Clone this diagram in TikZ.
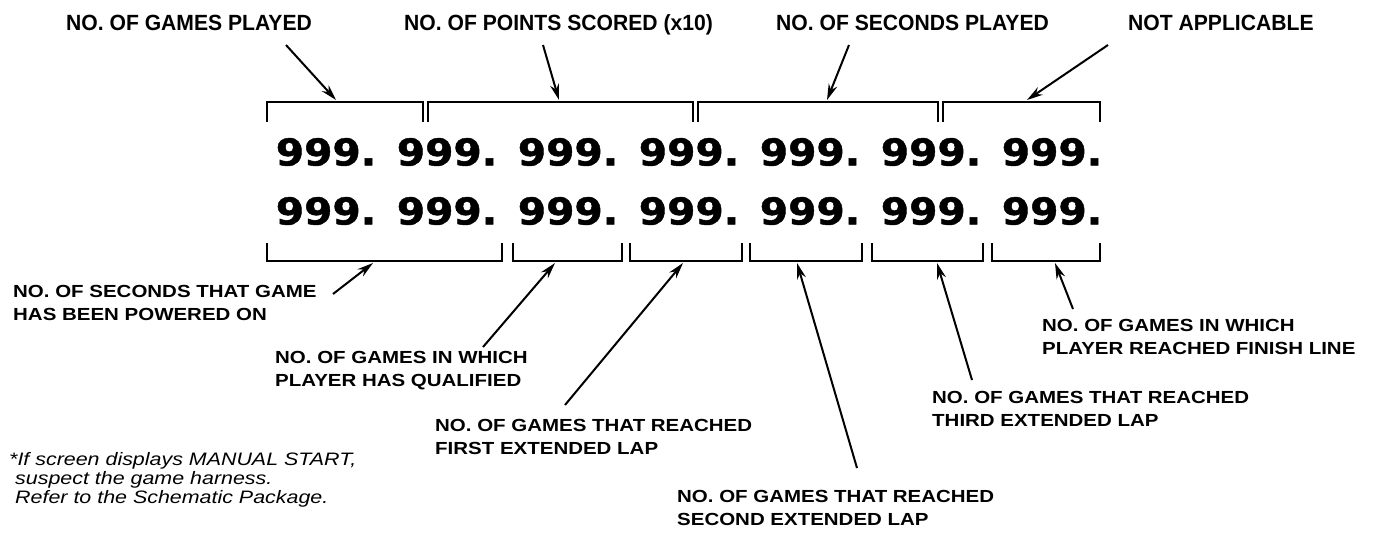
\documentclass[tikz,border=0pt]{standalone}
\usepackage{fontspec}
\setmainfont{Liberation Sans}
\newfontfamily\topfont[FakeStretch=0.96]{Liberation Sans}
\newfontfamily\lblfont[FakeStretch=1.17]{Liberation Sans}
\newfontfamily\notefont[FakeStretch=1.19]{Liberation Sans}
\newfontfamily\digfont[FakeStretch=1.1,FakeBold=1.2]{DejaVu Sans}
\usetikzlibrary{arrows.meta}

\begin{document}
\begin{tikzpicture}[x=1pt,y=-1pt,
  toplbl/.style={anchor=base west,inner sep=0pt,font=\topfont\bfseries\fontsize{22}{24}\selectfont},
  lbl/.style={anchor=north west,inner sep=0pt,align=left,font=\lblfont\bfseries\fontsize{17.5}{23}\selectfont},
  note/.style={anchor=north west,inner sep=0pt,align=left,font=\notefont\itshape\fontsize{18}{19}\selectfont},
  digits/.style={inner sep=0pt,font=\digfont\bfseries\fontsize{37}{40}\selectfont},
  brkt/.style={line width=2.6pt,line cap=butt,line join=miter},
  ptr/.style={line width=2pt,-{Stealth[length=16pt,width=9pt]}}]
\useasboundingbox (0,0) rectangle (1381,535);
% display rows
\foreach \i in {0,...,6} {
  \node[digits] (ra\i) at (326+121*\i,152) {999.};
  \node[digits] (rb\i) at (326+121*\i,211) {999.};
}
% brackets above and below
\foreach \l/\r in {267/423,428/693,698/938,943/1100}
  \draw[brkt] (\l,122) -- (\l,102) -- (\r,102) -- (\r,122);
\foreach \l/\r in {267/502,513/622,630/742,750/862,872/983,992/1100}
  \draw[brkt] (\l,243) -- (\l,261) -- (\r,261) -- (\r,243);
\coordinate (tGP) at (336,100);
\coordinate (tPS) at (559,100);
\coordinate (tSP) at (827,100);
\coordinate (tNA) at (1027,100);
\coordinate (tSG) at (373,263);
\coordinate (tGQ) at (555,263);
\coordinate (tFL) at (683,263);
\coordinate (tSL) at (797,263);
\coordinate (tTL) at (937,263);
\coordinate (tFN) at (1055,263);
% top labels
\node[toplbl] (GP) at (66,31) {NO. OF GAMES PLAYED};
\node[toplbl] (PS) at (404,31) {NO. OF POINTS SCORED (x10)};
\node[toplbl] (SP) at (776,31) {NO. OF SECONDS PLAYED};
\node[toplbl] (NA) at (1128,31) {NOT APPLICABLE};
\draw[ptr] ([shift={(220,14)}]GP.base west) -- (tGP);
\draw[ptr] ([shift={(139,14)}]PS.base west) -- (tPS);
\draw[ptr] ([shift={(73,14)}]SP.base west) -- (tSP);
\draw[ptr] ([shift={(-20,14)}]NA.base west) -- (tNA);
% bottom labels
\node[lbl] (SG) at (13,285) {NO. OF SECONDS THAT GAME\\HAS BEEN POWERED ON};
\node[lbl] (GQ) at (275,351) {NO. OF GAMES IN WHICH\\PLAYER HAS QUALIFIED};
\node[lbl] (FL) at (435,419) {NO. OF GAMES THAT REACHED\\FIRST EXTENDED LAP};
\node[lbl] (SL) at (677,490) {NO. OF GAMES THAT REACHED\\SECOND EXTENDED LAP};
\node[lbl] (TL) at (932,391) {NO. OF GAMES THAT REACHED\\THIRD EXTENDED LAP};
\node[lbl] (FN) at (1042,319) {NO. OF GAMES IN WHICH\\PLAYER REACHED FINISH LINE};
\draw[ptr] ([shift={(320,9)}]SG.north west) -- (tSG);
\draw[ptr] ([shift={(208,-4)}]GQ.north west) -- (tGQ);
\draw[ptr] ([shift={(130,-14)}]FL.north west) -- (tFL);
\draw[ptr] ([shift={(180,-22)}]SL.north west) -- (tSL);
\draw[ptr] ([shift={(40,-11)}]TL.north west) -- (tTL);
\draw[ptr] ([shift={(31,-10)}]FN.north west) -- (tFN);
% footnote
\node[note] (fn) at (9,452) {*If screen displays MANUAL START,\\\hspace*{6pt}suspect the game harness.\\\hspace*{6pt}Refer to the Schematic Package.};
\end{tikzpicture}
\end{document}
